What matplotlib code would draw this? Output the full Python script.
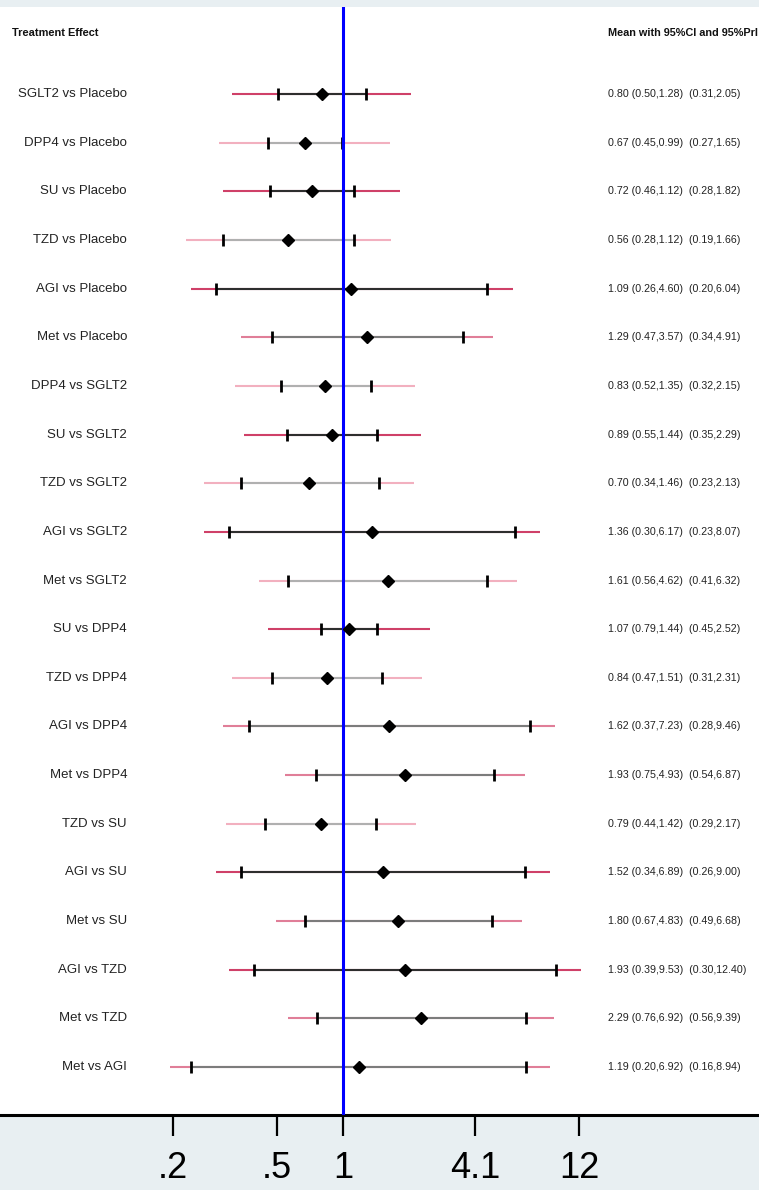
import numpy as np
import matplotlib
matplotlib.use('Agg')
import matplotlib.pyplot as plt
from matplotlib.transforms import blended_transform_factory

plt.rcParams['font.family'] = ['Liberation Sans Narrow', 'Liberation Sans', 'DejaVu Sans']

# --- data: pooled ratios with 95% CI and 95% prediction interval ---
comparisons = ['SGLT2 vs Placebo', 'DPP4 vs Placebo', 'SU vs Placebo', 'TZD vs Placebo',
               'AGI vs Placebo', 'Met vs Placebo', 'DPP4 vs SGLT2', 'SU vs SGLT2',
               'TZD vs SGLT2', 'AGI vs SGLT2', 'Met vs SGLT2', 'SU vs DPP4',
               'TZD vs DPP4', 'AGI vs DPP4', 'Met vs DPP4', 'TZD vs SU',
               'AGI vs SU', 'Met vs SU', 'AGI vs TZD', 'Met vs TZD', 'Met vs AGI']
mean = [0.80, 0.67, 0.72, 0.56, 1.09, 1.29, 0.83, 0.89, 0.70, 1.36, 1.61,
        1.07, 0.84, 1.62, 1.93, 0.79, 1.52, 1.80, 1.93, 2.29, 1.19]
ci_low = [0.50, 0.45, 0.46, 0.28, 0.26, 0.47, 0.52, 0.55, 0.34, 0.30, 0.56,
          0.79, 0.47, 0.37, 0.75, 0.44, 0.34, 0.67, 0.39, 0.76, 0.20]
ci_high = [1.28, 0.99, 1.12, 1.12, 4.60, 3.57, 1.35, 1.44, 1.46, 6.17, 4.62,
           1.44, 1.51, 7.23, 4.93, 1.42, 6.89, 4.83, 9.53, 6.92, 6.92]
pri_low = [0.31, 0.27, 0.28, 0.19, 0.20, 0.34, 0.32, 0.35, 0.23, 0.23, 0.41,
           0.45, 0.31, 0.28, 0.54, 0.29, 0.26, 0.49, 0.30, 0.56, 0.16]
pri_high = [2.05, 1.65, 1.82, 1.66, 6.04, 4.91, 2.15, 2.29, 2.13, 8.07, 6.32,
            2.52, 2.31, 9.46, 6.87, 2.17, 9.00, 6.68, 12.40, 9.39, 8.94]

# x ticks sit at round values of log(ratio)
tick_logs = [-1.8, -0.7, 0, 1.4, 2.5]
tick_labels = ['.2', '.5', '1', '4.1', '12']

# line shading per row
row_shade = ['dark', 'light', 'dark', 'light', 'dark', 'medium', 'light', 'dark',
             'light', 'dark', 'light', 'dark', 'light', 'medium', 'medium', 'light',
             'dark', 'medium', 'dark', 'medium', 'medium']
shades = {
    'dark':   ('#cf4068', '#2e2e2e'),
    'medium': ('#e07e98', '#7c7c7c'),
    'light':  ('#f2b0bf', '#b0b0b0'),
}

# --- figure ---
W, H = 759, 1190
fig = plt.figure(figsize=(W / 100, H / 100), dpi=100)
fig.patch.set_facecolor('#e8eff2')

ax_top, ax_bot = 7, 1115
ax = fig.add_axes([0, (H - ax_bot) / H, 1, (ax_bot - ax_top) / H])
ax.set_facecolor('white')

ax.set_xscale('log')
px_per_unit = 94.4
x0 = 343
ax.set_xlim(np.exp(-x0 / px_per_unit), np.exp((W - x0) / px_per_unit))

n = len(comparisons)
rows = np.arange(1, n + 1)
row_gap = (1067 - 94) / (n - 1)
ax.set_ylim(n + (ax_bot - 1067) / row_gap, 1 - (94 - ax_top) / row_gap)

for i, y in enumerate(rows):
    pri_col, ci_col = shades[row_shade[i]]
    ax.plot([pri_low[i], pri_high[i]], [y, y], color=pri_col, lw=1.5,
            solid_capstyle='butt', zorder=2)
    ax.plot([ci_low[i], ci_high[i]], [y, y], color=ci_col, lw=1.5,
            solid_capstyle='butt', zorder=3)
    ax.plot([ci_low[i], ci_high[i]], [y, y], ls='none', marker='|',
            ms=8, mew=2, color='black', zorder=4)

# line of no effect
ax.axvline(1, color='#0000ff', lw=2.2, zorder=5)

ax.plot(mean, rows, ls='none', marker='D', ms=6.5, color='black',
        mec='black', mew=1, zorder=6)

# axes styling
for side in ['top', 'left', 'right']:
    ax.spines[side].set_visible(False)
ax.spines['bottom'].set_linewidth(2.2)
ax.set_yticks([])
ax.set_xticks(np.exp(tick_logs))
ax.set_xticklabels(tick_labels, fontsize=26)
ax.xaxis.set_minor_locator(matplotlib.ticker.NullLocator())
ax.tick_params(axis='x', length=15, width=1.6, pad=11, colors='black')

# text columns
trans = blended_transform_factory(fig.transFigure, ax.transData)
header_y = 1 - (94 - 33) / row_gap
ax.text(12 / W, header_y, 'Treatment Effect', transform=trans, ha='left',
        va='center', fontsize=7.9, fontweight='bold', color='#111111')
ax.text(608 / W, header_y, 'Mean with 95%CI and 95%PrI', transform=trans,
        ha='left', va='center', fontsize=7.8, fontweight='bold', color='#111111')

for i, y in enumerate(rows):
    ax.text(127 / W, y, comparisons[i], transform=trans, ha='right',
            va='center', fontsize=9.5, color='#222222')
    summary = (f'{mean[i]:.2f} ({ci_low[i]:.2f},{ci_high[i]:.2f})  '
               f'({pri_low[i]:.2f},{pri_high[i]:.2f})')
    ax.text(608 / W, y, summary, transform=trans, ha='left', va='center',
            fontsize=7.7, color='#222222')

fig.savefig('out.png', dpi=100, facecolor=fig.get_facecolor())
